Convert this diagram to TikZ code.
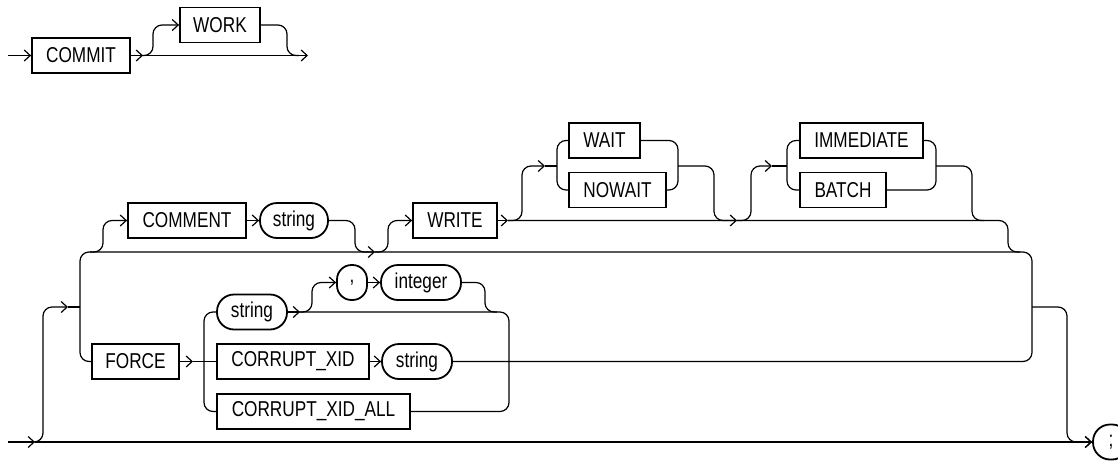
\documentclass[tikz,border=0pt]{standalone}
\usepackage{fontspec}
\setmainfont{Liberation Sans}[FakeStretch=0.8]
\usetikzlibrary{arrows.meta}
\tikzset{
  kw/.style={draw,line width=1.8pt,minimum height=35pt,inner sep=0pt,
    font=\fontsize{21.5}{25}\selectfont},
  ref/.style={kw,rounded corners=17pt},
  rail/.style={line width=1.2pt,rounded corners=9pt},
  arr/.style={rail,-{Straight Barb[length=6pt,width=11pt]}},
}
\begin{document}
\begin{tikzpicture}[x=1pt,y=-1pt]
    \useasboundingbox (0,0) rectangle (1118,461);
    % COMMIT [WORK]
    \node[kw,minimum width=98pt] (commit) at (81,55.5) {COMMIT};
    \node[kw,minimum width=80pt] (work) at (220,25) {WORK};
    \coordinate (in1) at (8,55.5);
    \coordinate (out1) at (308,55.5);
    \draw[arr] (in1) -- (commit.west);
    \draw[arr] (commit.east) -- (143,55.5);
    \draw[arr] (143,55.5) -- (out1);
    \draw[arr] (141,55.5) -- (153,55.5) -- (153,25) -- (work.west);
    \draw[rail] (work.east) -- (287,25) -- (287,55.5) -- (299,55.5);

    % options
    \node[kw,minimum width=118pt] (comment) at (187,220.5) {COMMENT};
    \node[ref,minimum width=68pt] (str1) at (294,220.5) {string};
    \node[kw,minimum width=84pt] (write) at (455,220.5) {WRITE};
    \node[kw,minimum width=71pt] (wait) at (604.5,140.5) {WAIT};
    \node[kw,minimum width=97pt] (nowait) at (617.5,190) {NOWAIT};
    \node[kw,minimum width=123pt] (immediate) at (861.5,140.5) {IMMEDIATE};
    \node[kw,minimum width=86pt] (batch) at (843,190) {BATCH};
    \node[kw,minimum width=87pt] (force) at (135.5,361.5) {FORCE};
    \node[ref,minimum width=70pt] (str2) at (252,312) {string};
    \node[ref,rounded corners=14.5pt,minimum width=30pt] (comma) at (352,282.5) {,};
    \node[ref,minimum width=80pt] (integer) at (421,282.5) {integer};
    \node[kw,minimum width=152pt] (cxid) at (293,361.5) {CORRUPT\_XID};
    \node[ref,minimum width=70pt] (str3) at (417,361.5) {string};
    \node[kw,minimum width=193pt] (cxall) at (313.5,411.5) {CORRUPT\_XID\_ALL};
    \node[ref,minimum width=36pt] (semi) at (1111,442) {;};
    \coordinate (in2) at (8,442);

    % main line and outer loop
    \draw[arr] (in2) -- (35,442);
    \draw[arr] (35,442) -- (semi.west);
    \draw[arr] (33,442) -- (43,442) -- (43,307) -- (68,307);
    \draw[rail] (68,307) -- (80,307);
    \draw[rail] (force.west) -- (80,361.5) -- (80,252) -- (1032,252)
        -- (1032,361.5) -- (str3.east);
    \draw[arr] (1032,307) -- (1067,307) -- (1067,442) -- (semi.west);

    % COMMENT string
    \draw[arr] (90,252) -- (103,252) -- (103,220.5) -- (comment.west);
    \draw[arr] (comment.east) -- (str1.west);
    \draw[arr] (str1.east) -- (355,220.5) -- (355,252) -- (375,252);

    % WRITE ...
    \draw[arr] (375,252) -- (388,252) -- (388,220.5) -- (write.west);
    \draw[arr] (write.east) -- (508,220.5);
    \draw[rail] (508,220.5) -- (1008,220.5) -- (1008,252) -- (1020,252);
    \draw[arr] (508,220.5) -- (522,220.5) -- (522,166) -- (545,166);
    \draw[rail] (545,166) -- (557,166);
    \draw[rail] (wait.west) -- (557,140.5) -- (557,190) -- (nowait.west);
    \draw[rail] (wait.east) -- (678,140.5) -- (678,190) -- (nowait.east);
    \draw[arr] (678,166) -- (714,166) -- (714,220.5) -- (737,220.5);
    \draw[arr] (737,220.5) -- (751,220.5) -- (751,166) -- (772,166);
    \draw[rail] (772,166) -- (787,166);
    \draw[rail] (immediate.west) -- (787,140.5) -- (787,190) -- (batch.west);
    \draw[rail] (immediate.east) -- (936,140.5) -- (936,190) -- (batch.east);
    \draw[rail] (936,166) -- (972,166) -- (972,220.5) -- (984,220.5);

    % FORCE ...
    \draw[arr] (force.east) -- (193,361.5);
    \draw[rail] (193,361.5) -- (cxid.west);
    \draw[rail] (str2.west) -- (204,312) -- (204,411.5) -- (cxall.west);
    \draw[arr] (str2.east) -- (300,312);
    \draw[rail] (300,312) -- (509,312) -- (509,411.5) -- (cxall.east);
    \draw[arr] (298,312) -- (312,312) -- (312,282.5) -- (comma.west);
    \draw[arr] (comma.east) -- (integer.west);
    \draw[rail] (integer.east) -- (485,282.5) -- (485,312) -- (497,312);
    \draw[arr] (cxid.east) -- (str3.west);
\end{tikzpicture}
\end{document}
